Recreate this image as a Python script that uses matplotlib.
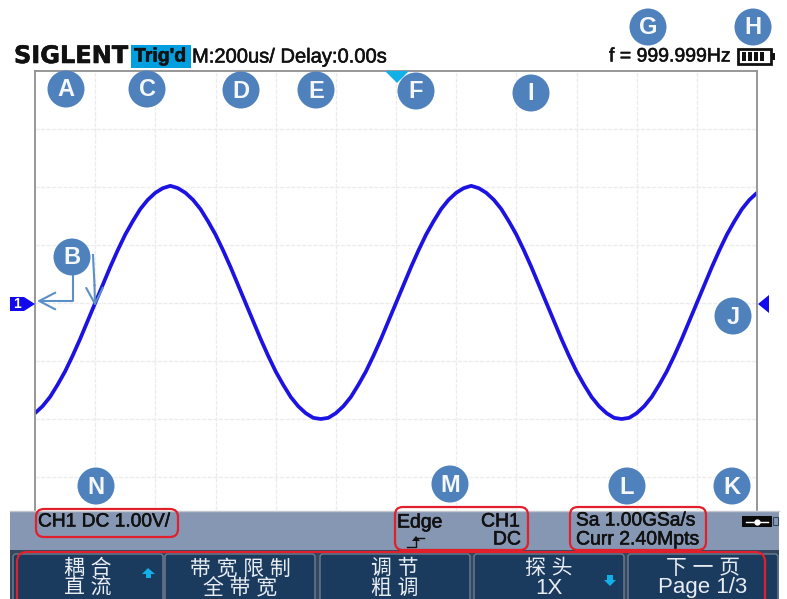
import matplotlib
matplotlib.use('Agg')
import matplotlib.pyplot as plt
import matplotlib.patheffects as pe
from matplotlib.patches import Circle, FancyBboxPatch, Polygon, Rectangle

# waveform, 25 us apart
time_us = [-1200, -1175, -1150, -1125, -1100, -1075, -1050, -1025, -1000, -975, -950, -925, -900,
           -875, -850, -825, -800, -775, -750, -725, -700, -675, -650, -625, -600, -575, -550,
           -525, -500, -475, -450, -425, -400, -375, -350, -325, -300, -275, -250, -225, -200,
           -175, -150, -125, -100, -75, -50, -25, 0, 25, 50, 75, 100, 125, 150, 175, 200, 225,
           250, 275, 300, 325, 350, 375, 400, 425, 450, 475, 500, 525, 550, 575, 600, 625, 650,
           675, 700, 725, 750, 775, 800, 825, 850, 875, 900, 925, 950, 975, 1000, 1025, 1050,
           1075, 1100, 1125, 1150, 1175, 1200]
volts = [-1.9, -1.78, -1.62, -1.41, -1.18, -0.91, -0.62, -0.31,
         0.0, 0.31, 0.62, 0.91, 1.18, 1.41, 1.62, 1.78, 1.9, 1.98, 2.02, 1.98, 1.9, 1.78, 1.62,
         1.41, 1.18, 0.91, 0.62, 0.31, 0.0, -0.31, -0.62, -0.91, -1.18, -1.41, -1.62, -1.78,
         -1.9, -1.98, -2.0, -1.98, -1.9, -1.78, -1.62, -1.41, -1.18, -0.91, -0.62, -0.31,
         0.0, 0.31, 0.62, 0.91, 1.18, 1.41, 1.62, 1.78, 1.9, 1.98, 2.02, 1.98, 1.9, 1.78, 1.62,
         1.41, 1.18, 0.91, 0.62, 0.31, 0.0, -0.31, -0.62, -0.91, -1.18, -1.41, -1.62, -1.78,
         -1.9, -1.98, -2.0, -1.98, -1.9, -1.78, -1.62, -1.41, -1.18, -0.91, -0.62, -0.31,
         0.0, 0.31, 0.62, 0.91, 1.18, 1.41, 1.62, 1.78, 1.9]

badge_letters = ['A', 'C', 'D', 'E', 'F', 'I', 'G', 'H', 'B', 'J', 'N', 'M', 'L', 'K']
badge_x = [66, 147, 241, 316, 416, 531, 648, 753, 72, 733, 96, 450, 627, 732]
badge_y = [89, 89, 90, 90, 91, 93, 27, 27, 257, 316, 486, 484, 486, 486]

menu_top = ['耦 合', '带 宽 限 制', '调 节', '探 头', '下 一 页']
menu_bottom = ['直 流', '全 带 宽', '粗 调', '1X', 'Page 1/3']
menu_left = [13, 165, 320, 474, 628]

W, H = 787, 599
SANS = ['Liberation Sans', 'DejaVu Sans']
MIXED = ['Liberation Sans', 'Noto Sans CJK SC']
BADGE = '#4f81bd'
RED = '#e2202c'
CYAN = '#12b0e8'

fig = plt.figure(figsize=(W / 100, H / 100), dpi=100, facecolor='w')

# scope screen, 200 us/div and 1 V/div
ax = fig.add_axes([35 / W, 1 - 510 / H, 722 / W, 439 / H], facecolor='w')
ax.set_xlim(-1200, 1200)
ax.set_ylim(-207 / 58, 4)
ax.set_xticks(range(-1000, 1001, 200))
ax.set_yticks([-3, -2, -1, 0, 1, 2, 3])
ax.tick_params(left=False, bottom=False, labelleft=False, labelbottom=False)
ax.grid(color='#ececec', lw=1, ls=(0, (3, 1)))
ax.set_axisbelow(True)
ax.spines['bottom'].set_visible(False)
for s in ['top', 'left', 'right']:
    ax.spines[s].set_color('#8f8f8f')
    ax.spines[s].set_linewidth(1.3)
ax.plot(time_us, volts, color='#1c12e2', lw=2.7, solid_capstyle='butt')

# everything else lives in pixel coordinates on top
ui = fig.add_axes([0, 0, 1, 1], facecolor='none')
ui.set_xlim(0, W)
ui.set_ylim(H, 0)
ui.axis('off')


def txt(x, y, s, size=14, ha='left', color='#111111', family=SANS, **kw):
    t = ui.text(x, y, s, fontsize=size, ha=ha, va='center', color=color, family=family, **kw)
    # the screenshot's small text is heavier than the regular face
    if color == '#111111':
        t.set_path_effects([pe.withStroke(linewidth=0.4, foreground=color)])


def red_box(x0, y0, x1, y1):
    ui.add_patch(FancyBboxPatch((x0 + 6, y0 + 6), x1 - x0 - 12, y1 - y0 - 12,
                                boxstyle='round,pad=6,rounding_size=8', fc='none', ec=RED,
                                lw=1.6, zorder=6))


# header
txt(14, 56, 'SIGLENT', size=17.3, family=['DejaVu Sans'], weight='bold')
ui.add_patch(Rectangle((131, 45), 60, 23, fc='#00a0e0', ec='none'))
txt(134, 57, "Trig'd", size=14, weight='bold')
txt(192, 57, 'M:200us/ Delay:0.00s', size=14.5)
txt(609, 57, 'f = 999.999Hz', size=14)
ui.add_patch(Rectangle((738, 49), 33, 15, fc='w', ec='#111111', lw=2))
ui.add_patch(Rectangle((771, 53), 4, 7, fc='#111111', ec='none'))
for bx in [742, 748, 754, 760]:
    ui.add_patch(Rectangle((bx, 52), 4, 9, fc='#111111', ec='none'))

# channel and trigger markers
ui.add_patch(Polygon([(385, 71), (409, 71), (397, 83)], fc=CYAN, ec='none'))
ui.add_patch(Polygon([(10, 297), (24, 297), (35, 304), (24, 311), (10, 311)], fc='#1208ee', ec='none'))
txt(17, 304, '1', size=10, ha='center', color='w', weight='bold')
ui.add_patch(Polygon([(758, 304), (769, 295), (769, 313)], fc='#1208ee', ec='none'))

# status bar and menu
ui.add_patch(Rectangle((10, 511), 769, 39, fc='#8597b2', ec='none'))
ui.add_patch(Rectangle((10, 550), 769, 49, fc='#33475f', ec='none'))
ui.plot([10, 779], [511, 511], color='#c4c8ce', lw=1)
for left, top, bottom in zip(menu_left, menu_top, menu_bottom):
    ui.add_patch(FancyBboxPatch((left + 2, 556), 146, 50, boxstyle='round,pad=2,rounding_size=3',
                                fc='#1a3a5e', ec='#6f7f92', lw=1))
    cx = left + 75
    txt(cx, 568, top, size=15, ha='center', color='#e8edf2', family=MIXED)
    txt(cx, 588, bottom, size=16 if bottom.isascii() else 15, ha='center', color='#e8edf2',
        family=MIXED)
ui.add_patch(Polygon([(142, 574), (148, 568), (155, 574), (151, 574), (151, 578), (146, 578), (146, 574)],
                     fc=CYAN, ec='none'))
ui.add_patch(Polygon([(604, 580), (616, 580), (610, 586)], fc=CYAN, ec='none'))
ui.add_patch(Rectangle((607, 575), 6, 5, fc=CYAN, ec='none'))

txt(38, 522, 'CH1 DC 1.00V/', size=13.8)
txt(397, 523, 'Edge', size=14)
txt(520, 522, 'CH1', size=14, ha='right')
txt(521, 540, 'DC', size=14, ha='right')
ui.plot([407, 416, 416, 424], [547, 547, 538, 538], color='#111111', lw=1)
ui.add_patch(Polygon([(412, 541), (420, 541), (416, 536)], fc='#111111', ec='none'))
txt(576, 521, 'Sa 1.00GSa/s', size=13.8)
txt(576, 540, 'Curr 2.40Mpts', size=14)
ui.add_patch(Rectangle((742, 516), 30, 11, fc='#0a0a0a', ec='none'))
ui.plot([746, 768], [521.5, 521.5], color='w', lw=1)
ui.plot([757], [521.5], marker='o', ms=3.5, color='w')
ui.add_patch(Rectangle((773, 517), 5, 8, fc='none', ec='#33475f', lw=0.8))

# red call-out frames
red_box(36, 509, 178, 537)
red_box(395, 507, 528, 550)
red_box(570, 507, 706, 550)
ui.add_patch(FancyBboxPatch((24, 559), 734, 60, boxstyle='round,pad=7,rounding_size=10', fc='none',
                            ec=RED, lw=1.6, zorder=6))

# B call-out arrows
head = dict(arrowstyle='->,head_length=1.15,head_width=0.6', color='#5b8fc7', lw=1.5,
            shrinkA=0, shrinkB=0)
ui.plot([73, 73, 60], [270, 301, 301], color='#5b8fc7', lw=1.5, zorder=3)
ui.plot([93, 94.5], [255, 285], color='#5b8fc7', lw=1.5, zorder=3)
ui.annotate('', xy=(37, 301), xytext=(60, 301), arrowprops=head)
ui.annotate('', xy=(95, 306), xytext=(94.5, 285), arrowprops=head)

# letter badges
for letter, x, y in zip(badge_letters, badge_x, badge_y):
    ui.add_patch(Circle((x, y), 18.5, fc=BADGE, ec='none', zorder=8))
    txt(x, y + 1, letter, size=17, ha='center', color='#f4f7fb', family=SANS, weight='bold',
        zorder=9)

fig.savefig('out.png', dpi=100)
